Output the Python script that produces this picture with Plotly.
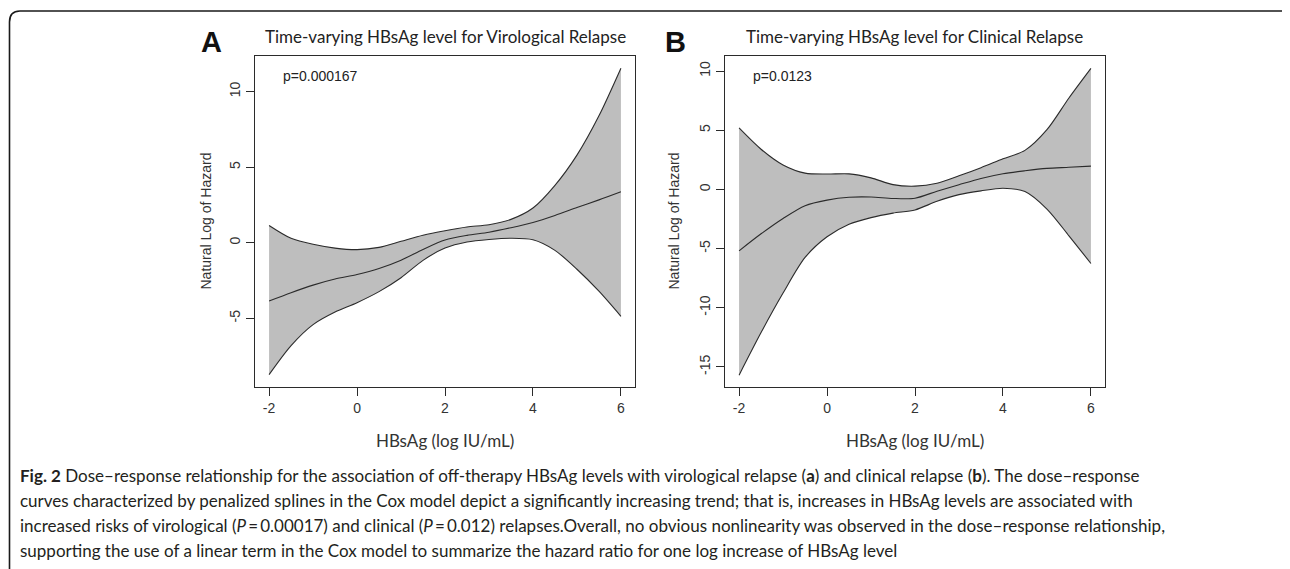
import plotly.graph_objects as go

# ---------------- data ----------------
hbsag = [-2, -1.5, -1, -0.5, 0, 0.5, 1, 1.5, 2, 2.5, 3, 3.5, 4, 4.5, 5, 5.5, 6]

vir_upper = [1.15, 0.3, -0.1, -0.35, -0.45, -0.3, 0.1, 0.5, 0.8, 1.05, 1.2, 1.55, 2.3, 3.8, 5.8, 8.4, 11.55]
vir_fit = [-3.85, -3.3, -2.8, -2.4, -2.1, -1.7, -1.15, -0.44, 0.18, 0.49, 0.7, 1.0, 1.35, 1.81, 2.33, 2.84, 3.38]
vir_lower = [-8.72, -6.8, -5.41, -4.58, -3.96, -3.23, -2.31, -1.16, -0.35, 0.05, 0.22, 0.3, 0.2, -0.5, -1.75, -3.2, -4.86]

cli_upper = [5.2, 3.4, 2.07, 1.38, 1.3, 1.32, 0.98, 0.41, 0.28, 0.52, 1.15, 1.84, 2.59, 3.3, 5.05, 7.73, 10.23]
cli_fit = [-5.19, -3.75, -2.45, -1.37, -0.9, -0.66, -0.64, -0.76, -0.74, -0.15, 0.4, 0.93, 1.33, 1.58, 1.78, 1.87, 1.97]
cli_lower = [-15.7, -12.1, -8.76, -5.75, -4.0, -2.94, -2.38, -2.0, -1.73, -1.0, -0.44, -0.12, 0.1, -0.18, -1.66, -3.92, -6.26]

x_ticks = [-2, 0, 2, 4, 6]
x_tick_labels = ["-2", "0", "2", "4", "6"]
vir_y_ticks = [-5, 0, 5, 10]
vir_y_labels = ["-5", "0", "5", "10"]
cli_y_ticks = [-15, -10, -5, 0, 5, 10]
cli_y_labels = ["-15", "-10", "-5", "0", "5", "10"]

panel_titles = ["Time-varying HBsAg level for Virological Relapse",
                "Time-varying HBsAg level for Clinical Relapse"]
panel_letters = ["A", "B"]
p_values = ["p=0.000167", "p=0.0123"]
x_title = "HBsAg (log IU/mL)"
y_title = "Natural Log of Hazard"

caption_lines = [
    "<b>Fig. 2</b> Dose–response relationship for the association of off-therapy HBsAg levels with virological relapse (<b>a</b>) and clinical relapse (<b>b</b>). The dose–response",
    "curves characterized by penalized splines in the Cox model depict a significantly increasing trend; that is, increases in HBsAg levels are associated with",
    "increased risks of virological (<i>P</i>\u2009=\u20090.00017) and clinical (<i>P</i>\u2009=\u20090.012) relapses.Overall, no obvious nonlinearity was observed in the dose–response relationship,",
    "supporting the use of a linear term in the Cox model to summarize the hazard ratio for one log increase of HBsAg level",
]

# ---------------- layout constants ----------------
# the page body has an 8px margin, so the figure starts at (8, 8) of the window
OFF = 8
W, H = 1290 - OFF, 569 - OFF
def px_x(p):
    return (p - OFF) / W
def px_y(p):
    return 1 - (p - OFF) / H

LINE = "#2b2b2b"
FILL = "#bebebe"
ARIAL = "Liberation Sans, Arial, sans-serif"
HUMAN = "Lato, Open Sans, sans-serif"

fig = go.Figure()

panels = [
    dict(xa="x", ya="y", up=vir_upper, fit=vir_fit, lo=vir_lower),
    dict(xa="x2", ya="y2", up=cli_upper, fit=cli_fit, lo=cli_lower),
]
for p in panels:
    fig.add_trace(go.Scatter(x=hbsag, y=p["lo"], mode="lines", xaxis=p["xa"], yaxis=p["ya"],
                             line=dict(color=LINE, width=1.1, shape="spline", smoothing=0.8),
                             showlegend=False, hoverinfo="skip"))
    fig.add_trace(go.Scatter(x=hbsag, y=p["up"], mode="lines", xaxis=p["xa"], yaxis=p["ya"],
                             fill="tonexty", fillcolor=FILL,
                             line=dict(color=LINE, width=1.1, shape="spline", smoothing=0.8),
                             showlegend=False, hoverinfo="skip"))
    fig.add_trace(go.Scatter(x=hbsag, y=p["fit"], mode="lines", xaxis=p["xa"], yaxis=p["ya"],
                             line=dict(color=LINE, width=1.1, shape="spline", smoothing=0.8),
                             showlegend=False, hoverinfo="skip"))

xdomA = [px_x(255), px_x(635)]
xdomB = [px_x(725), px_x(1105)]
ydom = [px_y(387), px_y(56)]

axis_common = dict(showgrid=False, zeroline=False, showline=True, mirror=True,
                   linecolor=LINE, linewidth=1, ticks="outside", ticklen=8,
                   tickcolor=LINE, tickwidth=1,
                   tickfont=dict(family=ARIAL, size=14, color="#333333"))

fig.update_layout(
    width=W, height=H, autosize=False,
    margin=dict(l=0, r=0, t=0, b=0),
    paper_bgcolor="white", plot_bgcolor="white",
    xaxis=dict(domain=xdomA, range=[-2.32, 6.32], tickvals=x_ticks, ticktext=x_tick_labels,
               anchor="y", **axis_common),
    yaxis=dict(domain=ydom, range=[-9.54, 12.36], tickvals=vir_y_ticks, ticktext=vir_y_labels,
               anchor="x", tickangle=-90, **axis_common),
    xaxis2=dict(domain=xdomB, range=[-2.32, 6.32], tickvals=x_ticks, ticktext=x_tick_labels,
                anchor="y2", **axis_common),
    yaxis2=dict(domain=ydom, range=[-16.7, 11.28], tickvals=cli_y_ticks, ticktext=cli_y_labels,
                anchor="x2", tickangle=-90, **axis_common),
)

ann = []
centers = [445, 915]
left_edges = [255, 725]
letter_x = [211, 675]
ylab_x = [205, 673]
for i in range(2):
    ann.append(dict(text=panel_titles[i], x=px_x(centers[i]), y=px_y(36), xref="paper", yref="paper",
                    xanchor="center", yanchor="middle", showarrow=False,
                    font=dict(family=HUMAN, size=17, color="#222222")))
    ann.append(dict(text="<b>" + panel_letters[i] + "</b>", x=px_x(letter_x[i]), y=px_y(42),
                    xref="paper", yref="paper", xanchor="center", yanchor="middle", showarrow=False,
                    font=dict(family=ARIAL, size=29, color="#111111")))
    ann.append(dict(text=p_values[i], x=px_x(left_edges[i] + 26), y=px_y(76), xref="paper", yref="paper",
                    xanchor="left", yanchor="middle", showarrow=False,
                    font=dict(family=ARIAL, size=14, color="#222222")))
    ann.append(dict(text=x_title, x=px_x(centers[i]), y=px_y(440), xref="paper", yref="paper",
                    xanchor="center", yanchor="middle", showarrow=False,
                    font=dict(family=HUMAN, size=17, color="#333333")))
    ann.append(dict(text=y_title, x=px_x(ylab_x[i]), y=px_y(221.5), xref="paper", yref="paper",
                    xanchor="center", yanchor="middle", showarrow=False, textangle=-90,
                    font=dict(family=ARIAL, size=14, color="#333333")))

cap_y = [475, 500, 525, 550]
for line, yy in zip(caption_lines, cap_y):
    ann.append(dict(text=line, x=px_x(18), y=px_y(yy), xref="paper", yref="paper",
                    xanchor="left", yanchor="middle", showarrow=False, align="left",
                    font=dict(family=HUMAN, size=17, color="#231f20")))
fig.update_layout(annotations=ann)

# rounded outer frame of the figure box
def P(xp, yp):
    return f"{px_x(xp):.5f},{px_y(yp):.5f}"
frame_path = (f"M {P(9.5, 575)} L {P(9.5, 22)} Q {P(9.5, 11)} {P(20, 11)} "
              f"L {P(1282, 11)} Q {P(1288, 11)} {P(1290, 15)}")
fig.add_shape(type="path", path=frame_path, xref="paper", yref="paper",
              line=dict(color="#1a1a1a", width=1.6))

fig.write_html("out.html")
